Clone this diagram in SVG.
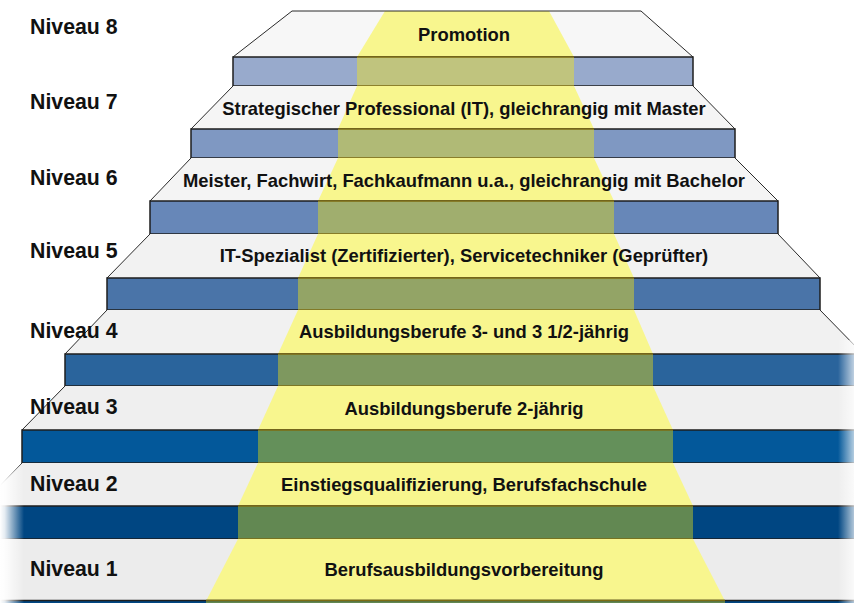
<svg xmlns="http://www.w3.org/2000/svg" width="854" height="603" viewBox="0 0 854 603">
<style>
.edge{fill:none;stroke:#2a2a2a;stroke-width:1}
.front{stroke:#1e1e1e;stroke-width:1.5}
.beam{fill:#f8f68e}
.bline{fill:none;stroke:#7d6c12;stroke-width:1.5}
.lbl{font-family:"Liberation Sans",Arial,sans-serif;font-weight:bold;font-size:21.3px;fill:#111}
.main{font-family:"Liberation Sans",Arial,sans-serif;font-weight:bold;font-size:18.4px;fill:#111;text-anchor:middle}
</style>
<defs>
<linearGradient id="fadeL" x1="0" y1="0" x2="1" y2="0">
<stop offset="0" stop-color="#fff" stop-opacity="1"/>
<stop offset="0.2" stop-color="#fff" stop-opacity="0.9"/>
<stop offset="1" stop-color="#fff" stop-opacity="0"/>
</linearGradient>
<linearGradient id="fadeR" x1="0" y1="0" x2="1" y2="0">
<stop offset="0" stop-color="#fff" stop-opacity="0"/>
<stop offset="1" stop-color="#fff" stop-opacity="0.7"/>
</linearGradient>
</defs>
<rect width="854" height="603" fill="#fff"/>

<g id="level8">
<polygon fill="#f7f7f7" points="292,11 641,11 693,57 233,57"/>
<polygon class="beam" fill="#f9f88f" points="385,11 549,11 574,57 357,57"/>
<path class="edge" d="M233,57 L292,11 L641,11 L693,57"/>
<rect class="front" x="233" y="57" width="460" height="29" fill="#98aacc"/>
<rect x="357" y="57" width="217" height="29" fill="#c0c47e"/>
<path class="bline" d="M357,57 H574 M357,86 H574"/>
</g>

<g id="level7">
<polygon fill="#f5f5f5" points="233,86 693,86 735,129 191,129"/>
<polygon class="beam" points="357,86 574,86 594,129 338,129"/>
<path class="edge" d="M191,129 L233,86 M693,86 L735,129"/>
<rect class="front" x="191" y="129" width="544" height="29" fill="#7f98c2"/>
<rect x="338" y="129" width="256" height="29" fill="#b0ba76"/>
<path class="bline" d="M338,129 H594 M338,158 H594"/>
</g>

<g id="level6">
<polygon fill="#f4f4f4" points="191,158 735,158 778,201 150,201"/>
<polygon class="beam" points="338,158 594,158 614,201 318,201"/>
<path class="edge" d="M150,201 L191,158 M735,158 L778,201"/>
<rect class="front" x="150" y="201" width="628" height="33" fill="#6787b8"/>
<rect x="318" y="201" width="296" height="33" fill="#a0ae6e"/>
<path class="bline" d="M318,201 H614 M318,234 H614"/>
</g>

<g id="level5">
<polygon fill="#f2f2f2" points="150,234 778,234 820,278 107,278"/>
<polygon class="beam" points="318,234 614,234 634,278 298,278"/>
<path class="edge" d="M107,278 L150,234 M778,234 L820,278"/>
<rect class="front" x="107" y="278" width="713" height="32" fill="#4a74a8"/>
<rect x="298" y="278" width="336" height="32" fill="#93a466"/>
<path class="bline" d="M298,278 H634 M298,310 H634"/>
</g>

<g id="level4">
<polygon fill="#f1f1f1" points="107,310 820,310 863,354 65,354"/>
<polygon class="beam" points="298,310 634,310 653,354 278,354"/>
<path class="edge" d="M65,354 L107,310 M820,310 L863,354"/>
<rect class="front" x="65" y="354" width="800" height="32" fill="#2a649c"/>
<rect x="278" y="354" width="375" height="32" fill="#7e985f"/>
<path class="bline" d="M278,354 H653 M278,386 H653"/>
</g>

<g id="level3">
<polygon fill="#efefef" points="65,386 870,386 870,430 22,430"/>
<polygon class="beam" fill="#f6f48d" points="278,386 653,386 673,430 258,430"/>
<path class="edge" d="M22,430 L65,386"/>
<rect class="front" x="22" y="430" width="845" height="33" fill="#03589a"/>
<rect x="258" y="430" width="415" height="33" fill="#64905a"/>
<path class="bline" d="M258,430 H673 M258,463 H673"/>
</g>

<g id="level2">
<polygon fill="#eeeeee" points="22,463 870,463 870,506 -20,506"/>
<polygon class="beam" fill="#f5f38d" points="258,463 673,463 693,506 238,506"/>
<path class="edge" d="M-20,506 L22,463"/>
<rect class="front" x="-20" y="506" width="890" height="33" fill="#004682"/>
<rect x="238" y="506" width="455" height="33" fill="#628852"/>
<path class="bline" d="M238,506 H693 M238,539 H693"/>
</g>

<g id="level1">
<polygon fill="#ececec" points="-20,539 870,539 870,601 -20,601"/>
<polygon class="beam" fill="#f4f18c" points="238,539 693,539 725,601 206,601"/>
<rect class="front" x="-20" y="600.5" width="890" height="20" fill="#004682"/>
<rect x="206" y="601.2" width="519" height="5" fill="#628852"/>
<path class="bline" d="M206,600.5 H725"/>
</g>

<g id="fades">
<rect x="0" y="463.5" width="24" height="140" fill="url(#fadeL)"/>
<rect x="838" y="340" width="16" height="263" fill="url(#fadeR)"/>
</g>

<g id="labels">
<text class="lbl" x="30" y="34">Niveau 8</text>
<text class="lbl" x="30" y="109">Niveau 7</text>
<text class="lbl" x="30" y="185">Niveau 6</text>
<text class="lbl" x="30" y="258">Niveau 5</text>
<text class="lbl" x="30" y="338">Niveau 4</text>
<text class="lbl" x="30" y="414">Niveau 3</text>
<text class="lbl" x="30" y="491">Niveau 2</text>
<text class="lbl" x="30" y="576">Niveau 1</text>
<text class="main" x="464" y="41">Promotion</text>
<text class="main" x="464" y="115">Strategischer Professional (IT), gleichrangig mit Master</text>
<text class="main" x="464" y="187">Meister, Fachwirt, Fachkaufmann u.a., gleichrangig mit Bachelor</text>
<text class="main" x="464" y="262">IT-Spezialist (Zertifizierter), Servicetechniker (Geprüfter)</text>
<text class="main" x="464" y="338">Ausbildungsberufe 3- und 3 1/2-jährig</text>
<text class="main" x="464" y="415">Ausbildungsberufe 2-jährig</text>
<text class="main" x="464" y="491">Einstiegsqualifizierung, Berufsfachschule</text>
<text class="main" x="464" y="576">Berufsausbildungsvorbereitung</text>
</g>
</svg>
